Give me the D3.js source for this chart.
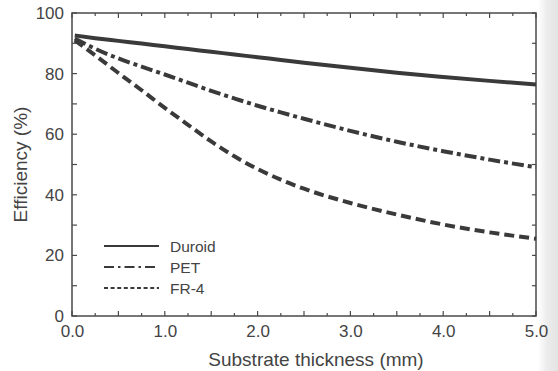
<!DOCTYPE html>
<html>
<head>
<meta charset="utf-8">
<script src="https://cdn.jsdelivr.net/npm/d3@7"></script>
<style>
  html, body { margin: 0; padding: 0; background: #fff; }
  svg { display: block; }
  text { font-family: "Liberation Sans", Arial, sans-serif; }
</style>
</head>
<body>
<div id="chart"></div>
<script>
// ---- data ----
const seriesNames = ["Duroid", "PET", "FR-4"];
const thickness = [0.03, 0.25, 0.5, 0.75, 1.0, 1.25, 1.5, 1.75, 2.0, 2.25, 2.5, 3.0, 3.5, 4.0, 4.5, 5.0];
const duroid = [92.6, 91.7, 90.8, 89.9, 89.0, 88.1, 87.2, 86.3, 85.4, 84.5, 83.6, 81.9, 80.3, 78.9, 77.6, 76.4];
const pet    = [91.6, 88.2, 85.0, 82.3, 79.7, 77.0, 74.3, 71.8, 69.4, 67.2, 65.1, 61.1, 57.5, 54.4, 51.6, 49.1];
const fr4    = [91.0, 86.0, 80.2, 74.5, 68.7, 63.1, 57.6, 52.7, 48.5, 45.0, 42.0, 37.3, 33.5, 30.2, 27.6, 25.5];
const xTickLabels = ["0.0", "1.0", "2.0", "3.0", "4.0", "5.0"];
const yTickLabels = ["0", "20", "40", "60", "80", "100"];

// ---- layout ----
const W = 558, H = 371;
const m = { left: 72, right: 536, top: 13, bottom: 316 };
const ink = "#3a3a3a";
const textCol = "#444";

const svg = d3.select("#chart").append("svg").attr("width", W).attr("height", H);

// scan shading at right edge
const grad = svg.append("defs").append("linearGradient").attr("id", "edge").attr("x1", "0").attr("x2", "1");
grad.append("stop").attr("offset", "0").attr("stop-color", "#ffffff");
grad.append("stop").attr("offset", "0.45").attr("stop-color", "#ececec");
grad.append("stop").attr("offset", "1").attr("stop-color", "#e4e4e4");
svg.append("rect").attr("x", 538).attr("y", 0).attr("width", 20).attr("height", H).attr("fill", "url(#edge)");

const x = d3.scaleLinear().domain([0, 5]).range([m.left, m.right]);
const y = d3.scaleLinear().domain([0, 100]).range([m.bottom, m.top]);

// frame
svg.append("rect")
  .attr("x", m.left).attr("y", m.top)
  .attr("width", m.right - m.left).attr("height", m.bottom - m.top)
  .attr("fill", "none").attr("stroke", "#4a4a4a").attr("stroke-width", 1.5);

// x ticks (bottom & top, inward)
const xMinor = d3.range(0, 5.001, 0.25);
const tickLen = v => (Math.abs(v * 2 - Math.round(v * 2)) < 1e-6 ? 5 : 3);
svg.append("g").selectAll("line").data(xMinor).enter().append("line")
  .attr("x1", d => x(d)).attr("x2", d => x(d))
  .attr("y1", m.bottom).attr("y2", d => m.bottom - tickLen(d))
  .attr("stroke", "#4a4a4a").attr("stroke-width", 1.2);
svg.append("g").selectAll("line").data(xMinor).enter().append("line")
  .attr("x1", d => x(d)).attr("x2", d => x(d))
  .attr("y1", m.top).attr("y2", d => m.top + tickLen(d))
  .attr("stroke", "#4a4a4a").attr("stroke-width", 1.2);

// x labels via axis
const gx = svg.append("g").attr("transform", `translate(0,${m.bottom})`)
  .call(d3.axisBottom(x).tickValues(xTickLabels.map(Number)).tickFormat((d, i) => xTickLabels[i]).tickSize(0).tickPadding(9));
gx.select(".domain").remove();
gx.selectAll("text").attr("font-size", 17).attr("fill", textCol).attr("font-family", "Liberation Sans, Arial, sans-serif");

// y ticks
const yMinor = d3.range(0, 100.001, 10);
svg.append("g").selectAll("line").data(yMinor).enter().append("line")
  .attr("x1", m.left).attr("x2", m.left + 5)
  .attr("y1", d => y(d)).attr("y2", d => y(d))
  .attr("stroke", "#4a4a4a").attr("stroke-width", 1.2);
svg.append("g").selectAll("line").data(yMinor).enter().append("line")
  .attr("x1", m.right).attr("x2", m.right - 4)
  .attr("y1", d => y(d)).attr("y2", d => y(d))
  .attr("stroke", "#4a4a4a").attr("stroke-width", 1.2);

const gy = svg.append("g").attr("transform", `translate(${m.left},0)`)
  .call(d3.axisLeft(y).tickValues(yTickLabels.map(Number)).tickFormat((d, i) => yTickLabels[i]).tickSize(0).tickPadding(8));
gy.select(".domain").remove();
gy.selectAll("text").attr("font-size", 17).attr("fill", textCol).attr("font-family", "Liberation Sans, Arial, sans-serif");

// axis titles
svg.append("text").attr("x", (m.left + m.right) / 2 + 12).attr("y", 366)
  .attr("text-anchor", "middle").attr("font-size", 19).attr("fill", textCol)
  .text("Substrate thickness (mm)");
svg.append("text").attr("transform", `translate(27,${(m.top + m.bottom) / 2}) rotate(-90)`)
  .attr("text-anchor", "middle").attr("font-size", 19).attr("fill", textCol)
  .text("Efficiency (%)");

// curves
const series = [
  { name: seriesNames[0], vals: duroid, dash: null, legDash: null },
  { name: seriesNames[1], vals: pet, dash: "12,4,4,4", legDash: "10,4,2.5,4" },
  { name: seriesNames[2], vals: fr4, dash: "10,5", legDash: "4,2.6" }
];
const line = d3.line().x(d => x(d[0])).y(d => y(d[1])).curve(d3.curveMonotoneX);
series.forEach(s => {
  svg.append("path")
    .datum(thickness.map((t, i) => [t, s.vals[i]]))
    .attr("d", line)
    .attr("fill", "none").attr("stroke", ink).attr("stroke-width", 4)
    .attr("stroke-dasharray", s.dash);
});

// legend
const legY = [246, 267, 288];
series.forEach((s, i) => {
  svg.append("line").attr("x1", 104).attr("x2", 159).attr("y1", legY[i]).attr("y2", legY[i])
    .attr("stroke", ink).attr("stroke-width", 1.8).attr("stroke-dasharray", s.legDash);
  svg.append("text").attr("x", 170).attr("y", legY[i]).attr("dy", "0.36em")
    .attr("font-size", 15.5).attr("fill", textCol).text(s.name);
});
</script>
</body>
</html>
